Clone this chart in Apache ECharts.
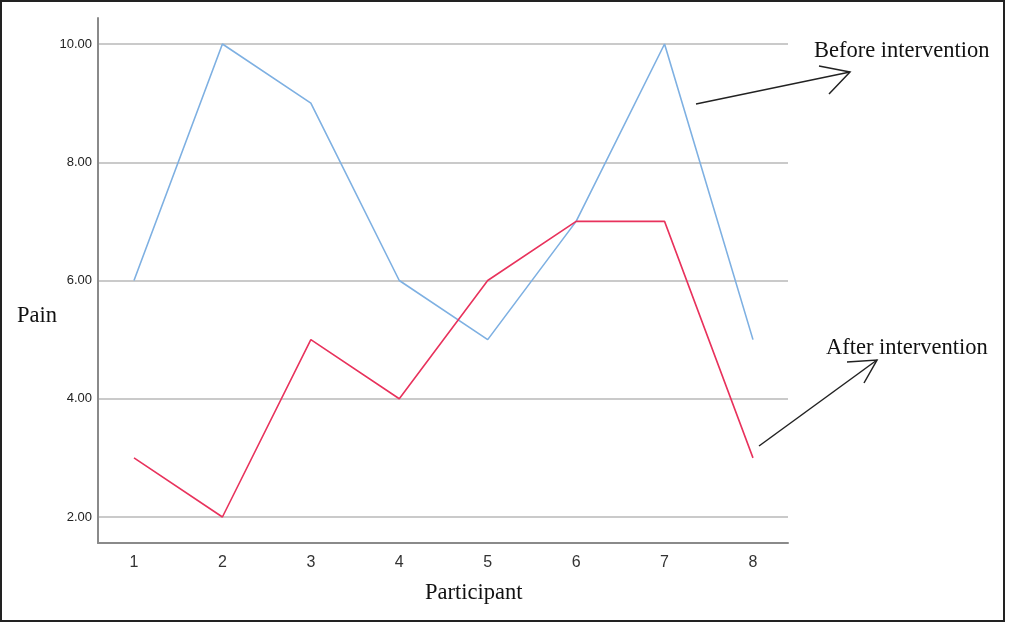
<!DOCTYPE html>
<html>
<head>
<meta charset="utf-8">
<script src="https://cdn.jsdelivr.net/npm/echarts@6/dist/echarts.min.js"></script>
<style>html,body{margin:0;padding:0;background:#fff}#c{width:1010px;height:623px}</style>
</head>
<body>
<div id="c"></div>
<script>
var participants = [1, 2, 3, 4, 5, 6, 7, 8];
var beforeIntervention = [6, 10, 9, 6, 5, 7, 10, 5];
var afterIntervention = [3, 2, 5, 4, 6, 7, 7, 3];
var yTicks = [2, 4, 6, 8, 10];

var chart = echarts.init(document.getElementById('c'));
function pairs(vals){ return participants.map(function(p,i){ return [p, vals[i]]; }); }
var serif = '22.5px "Liberation Serif", "Times New Roman", serif';
chart.setOption({
  animation: false,
  backgroundColor: '#fff',
  grid: { left: 98, right: 222, top: 18, bottom: 80 },
  xAxis: {
    type: 'value', min: 0.593, max: 8.396,
    axisLine: { show: true, lineStyle: { color: '#8a8a8a', width: 2 } },
    axisTick: { show: false, customValues: participants },
    splitLine: { show: false },
    axisLabel: { customValues: participants, color: '#333', fontSize: 16, fontFamily: 'Liberation Sans, Arial, sans-serif', margin: 12 }
  },
  yAxis: {
    type: 'value', min: 1.56, max: 10.44,
    axisLine: { show: true, lineStyle: { color: '#8a8a8a', width: 2 } },
    axisTick: { show: false, customValues: yTicks },
    splitLine: { show: true, lineStyle: { color: '#b8b8b8', width: 1.5 } },
    axisLabel: { customValues: yTicks, color: '#222', fontSize: 13, fontFamily: 'Liberation Sans, Arial, sans-serif', margin: 6,
      formatter: function(v){ return v.toFixed(2); } }
  },
  series: [
    { type: 'line', data: pairs(beforeIntervention), symbol: 'none', lineStyle: { color: '#7eb0e2', width: 1.6 }, z: 3 },
    { type: 'line', data: pairs(afterIntervention), symbol: 'none', lineStyle: { color: '#e8325c', width: 1.6 }, z: 4 }
  ],
  graphic: [
    { type: 'rect', shape: { x: 1, y: 1, width: 1003, height: 620 }, style: { fill: 'none', stroke: '#222', lineWidth: 2 }, silent: true },
    { type: 'text', left: 17, top: 305, style: { text: 'Pain', font: serif, fill: '#111' } },
    { type: 'text', left: 425, top: 582, style: { text: 'Participant', font: serif, fill: '#111' } },
    { type: 'text', left: 814, top: 40, style: { text: 'Before intervention', font: serif, fill: '#111' } },
    { type: 'text', left: 826, top: 337, style: { text: 'After intervention', font: serif, fill: '#111' } },
    { type: 'polyline', shape: { points: [[696,104],[850,72]] }, style: { stroke: '#222', lineWidth: 1.5, fill: 'none' } },
    { type: 'polyline', shape: { points: [[819,66],[850,72],[829,94]] }, style: { stroke: '#222', lineWidth: 1.5, fill: 'none' } },
    { type: 'polyline', shape: { points: [[759,446],[877,360]] }, style: { stroke: '#222', lineWidth: 1.5, fill: 'none' } },
    { type: 'polyline', shape: { points: [[847,362],[877,360],[864,383]] }, style: { stroke: '#222', lineWidth: 1.5, fill: 'none' } }
  ]
});
</script>
</body>
</html>
